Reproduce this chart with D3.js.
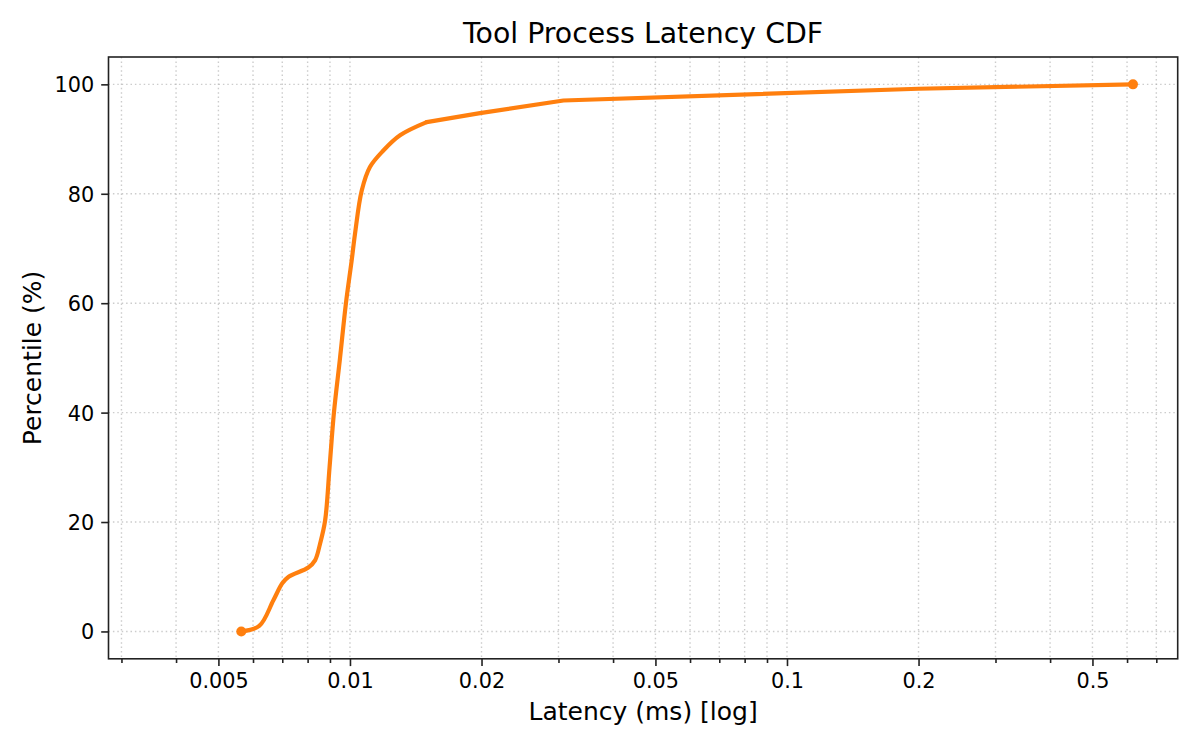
<!DOCTYPE html>
<html>
<head>
<meta charset="utf-8">
<script src="https://cdn.jsdelivr.net/npm/d3@7"></script>
<style>
  html, body { margin: 0; padding: 0; background: #ffffff; }
  svg { display: block; font-family: "DejaVu Sans", sans-serif; }
</style>
</head>
<body>
<svg id="chart" width="1200" height="750"></svg>
<script>
// ---- data ----
// dense body of the distribution (drawn smooth)
const latencyBody = [0.00564, 0.0062, 0.00668, 0.0070, 0.00724, 0.00803, 0.00832, 0.00854, 0.00877,
                     0.00898, 0.00919, 0.00949, 0.00979, 0.01009, 0.01027, 0.01064, 0.01111, 0.01192,
                     0.01302, 0.01498];
const percentileBody = [0, 1, 5.7, 8.8, 10, 11.7, 13.0, 16, 20.2,
                        30, 40, 50, 60, 67.8, 72.7, 80.6, 84.9, 87.9,
                        90.7, 93.1];
// sparse tail of the distribution (straight segments)
const latencyTail = [0.01498, 0.01984, 0.0308, 0.2, 0.619];
const percentileTail = [93.1, 94.75, 97.05, 99.2, 100];

const xMajorTicks = [0.005, 0.01, 0.02, 0.05, 0.1, 0.2, 0.5];
const xTickLabels = ["0.005", "0.01", "0.02", "0.05", "0.1", "0.2", "0.5"];
const xMinorTicks = [0.003, 0.004, 0.006, 0.007, 0.008, 0.009, 0.03, 0.04, 0.06, 0.07, 0.08, 0.09, 0.3, 0.4, 0.6, 0.7];
const yTicks = [0, 20, 40, 60, 80, 100];
const xDomain = [0.002802, 0.7835];
const yDomain = [-5, 105];

const titleText = "Tool Process Latency CDF";
const xLabelText = "Latency (ms) [log]";
const yLabelText = "Percentile (%)";
const lineColor = "#ff7f0e";

// ---- layout ----
const L = 108.5, R = 1177.7, T = 57, B = 658.8;
const svg = d3.select("#chart");

const x = d3.scaleLog().domain(xDomain).range([L, R]);
const y = d3.scaleLinear().domain(yDomain).range([B, T]);

// grid
const grid = svg.append("g")
  .attr("stroke", "#b0b0b0").attr("stroke-opacity", 0.65)
  .attr("stroke-width", 1.4).attr("stroke-dasharray", "1.5,2.9");
grid.selectAll("line.vx").data(xMajorTicks.concat(xMinorTicks)).join("line")
  .attr("x1", d => x(d)).attr("x2", d => x(d)).attr("y1", T).attr("y2", B);
grid.selectAll("line.hy").data(yTicks).join("line")
  .attr("class", "hy")
  .attr("x1", L).attr("x2", R).attr("y1", d => y(d)).attr("y2", d => y(d));

// axes via d3
const xAxis = d3.axisBottom(x).tickValues(xMajorTicks)
  .tickFormat((d, i) => xTickLabels[i]).tickSize(7.3).tickPadding(7);
const xAxisMinor = d3.axisBottom(x).tickValues(xMinorTicks).tickFormat("").tickSize(4.2);
const yAxis = d3.axisLeft(y).tickValues(yTicks).tickFormat(d3.format("d")).tickSize(7.3).tickPadding(7);

const gx = svg.append("g").attr("transform", `translate(0,${B})`).call(xAxis);
const gxm = svg.append("g").attr("transform", `translate(0,${B})`).call(xAxisMinor);
const gy = svg.append("g").attr("transform", `translate(${L},0)`).call(yAxis);
[gx, gxm, gy].forEach(g => {
  g.select(".domain").remove();
  g.selectAll(".tick line").attr("stroke", "#222").attr("stroke-width", 1.6);
  g.selectAll(".tick text").attr("fill", "#000").attr("font-size", "20.8px")
    .attr("font-family", "DejaVu Sans");
});
gx.selectAll(".tick text").attr("dy", "0.74em");
gy.selectAll(".tick text").attr("dy", "0.36em");

// line
const bodyPts = latencyBody.map((v, i) => [v, percentileBody[i]]);
const tailPts = latencyTail.map((v, i) => [v, percentileTail[i]]);
const smoothLine = d3.line().x(d => x(d[0])).y(d => y(d[1])).curve(d3.curveCatmullRom.alpha(0.5));
const straightLine = d3.line().x(d => x(d[0])).y(d => y(d[1])).curve(d3.curveLinear);
const lineG = svg.append("g").attr("fill", "none").attr("stroke", lineColor)
  .attr("stroke-width", 4.2).attr("stroke-linejoin", "round").attr("stroke-linecap", "round");
lineG.append("path").datum(bodyPts).attr("d", smoothLine);
lineG.append("path").datum(tailPts).attr("d", straightLine);

// end markers
const allPts = bodyPts.concat(tailPts.slice(1));
svg.selectAll("circle.m").data([allPts[0], allPts[allPts.length - 1]]).join("circle")
  .attr("cx", d => x(d[0])).attr("cy", d => y(d[1])).attr("r", 5)
  .attr("fill", lineColor);

// spines
svg.append("rect").attr("x", L).attr("y", T).attr("width", R - L).attr("height", B - T)
  .attr("fill", "none").attr("stroke", "#222").attr("stroke-width", 1.6);

// title & labels
svg.append("text").attr("x", (L + R) / 2).attr("y", 43).attr("text-anchor", "middle")
  .attr("font-size", "28.4px").attr("fill", "#000").text(titleText);
svg.append("text").attr("x", (L + R) / 2).attr("y", 720).attr("text-anchor", "middle")
  .attr("font-size", "25px").attr("fill", "#000").text(xLabelText);
svg.append("text").attr("transform", `translate(41,${(T + B) / 2}) rotate(-90)`)
  .attr("text-anchor", "middle").attr("font-size", "25px").attr("fill", "#000").text(yLabelText);
</script>
</body>
</html>
